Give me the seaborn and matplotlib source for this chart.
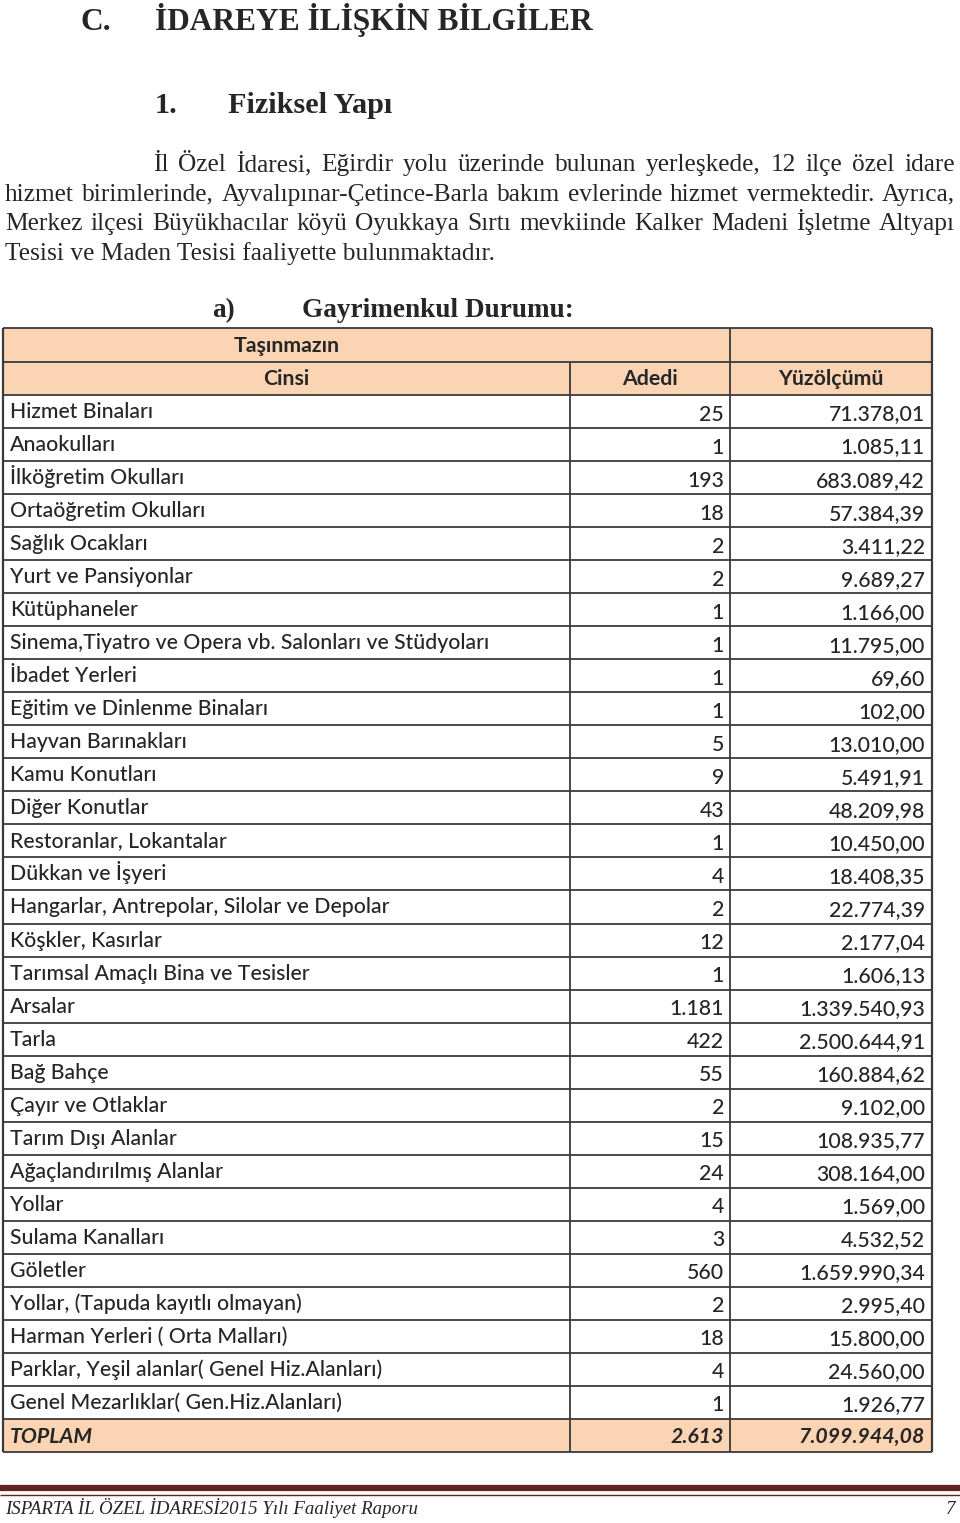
import numpy as np
import matplotlib as mpl
mpl.use('Agg')
import matplotlib.pyplot as plt
from matplotlib.patches import Rectangle
import seaborn as sns

sns.set_theme(style='white')
plt.rcParams['font.family'] = ['Liberation Serif', 'DejaVu Serif']

# table contents
cinsi = ['Hizmet Binaları', 'Anaokulları', 'İlköğretim Okulları', 'Ortaöğretim Okulları',
         'Sağlık Ocakları', 'Yurt ve Pansiyonlar', 'Kütüphaneler',
         'Sinema,Tiyatro ve Opera vb. Salonları ve Stüdyoları', 'İbadet Yerleri',
         'Eğitim ve Dinlenme Binaları', 'Hayvan Barınakları', 'Kamu Konutları',
         'Diğer Konutlar', 'Restoranlar, Lokantalar', 'Dükkan ve İşyeri',
         'Hangarlar, Antrepolar, Silolar ve Depolar', 'Köşkler, Kasırlar',
         'Tarımsal Amaçlı Bina ve Tesisler', 'Arsalar', 'Tarla', 'Bağ Bahçe',
         'Çayır ve Otlaklar', 'Tarım Dışı Alanlar', 'Ağaçlandırılmış Alanlar', 'Yollar',
         'Sulama Kanalları', 'Göletler', 'Yollar, (Tapuda kayıtlı olmayan)',
         'Harman Yerleri ( Orta Malları)', 'Parklar, Yeşil alanlar( Genel Hiz.Alanları)',
         'Genel Mezarlıklar( Gen.Hiz.Alanları)']
adedi = ['25', '1', '193', '18', '2', '2', '1', '1', '1', '1', '5', '9', '43', '1', '4',
         '2', '12', '1', '1.181', '422', '55', '2', '15', '24', '4', '3', '560', '2', '18',
         '4', '1']
yuzolcum = ['71.378,01', '1.085,11', '683.089,42', '57.384,39', '3.411,22', '9.689,27',
            '1.166,00', '11.795,00', '69,60', '102,00', '13.010,00', '5.491,91',
            '48.209,98', '10.450,00', '18.408,35', '22.774,39', '2.177,04', '1.606,13',
            '1.339.540,93', '2.500.644,91', '160.884,62', '9.102,00', '108.935,77',
            '308.164,00', '1.569,00', '4.532,52', '1.659.990,34', '2.995,40', '15.800,00',
            '24.560,00', '1.926,77']
toplam_adet = '2.613'
toplam_alan = '7.099.944,08'

paragraph = [
    'İl Özel İdaresi, Eğirdir yolu üzerinde bulunan yerleşkede, 12 ilçe özel idare',
    'hizmet birimlerinde,  Ayvalıpınar-Çetince-Barla bakım evlerinde hizmet vermektedir. Ayrıca,',
    'Merkez ilçesi Büyükhacılar köyü Oyukkaya Sırtı mevkiinde Kalker Madeni İşletme Altyapı',
    'Tesisi ve Maden Tesisi faaliyette bulunmaktadır.',
]

fig = plt.figure(figsize=(9.6, 15.23), dpi=100)
ax = fig.add_axes([0, 0, 1, 1])
ax.set_xlim(0, 960)
ax.set_ylim(1523, 0)
ax.axis('off')
renderer = fig.canvas.get_renderer()

SANS = ['Lato', 'DejaVu Sans']
SERIF = ['Liberation Serif', 'DejaVu Serif']


def width_of(txt, size, **kw):
    t = ax.text(0, 0, txt, fontsize=size, **kw)
    w = t.get_window_extent(renderer).width
    t.remove()
    return w


def fit(txt, target, **kw):
    return 20 * target / width_of(txt, 20, **kw)


def justify(line, x0, x1, y, size, **kw):
    words = line.split()
    ws = [width_of(w, size, **kw) for w in words]
    gap = (x1 - x0 - sum(ws)) / (len(words) - 1)
    x = x0
    for w, wd in zip(words, ws):
        ax.text(x, y, w, fontsize=size, va='baseline', ha='left', **kw)
        x += wd + gap


# headings
hs = fit('İDAREYE İLİŞKİN BİLGİLER', 437, family=SERIF, weight='bold')
ax.text(80, 30, 'C.', fontsize=hs, weight='bold', family=SERIF, va='baseline')
ax.text(155, 30, 'İDAREYE İLİŞKİN BİLGİLER', fontsize=hs, weight='bold', family=SERIF, va='baseline')
hs2 = fit('Fiziksel Yapı', 165, family=SERIF, weight='bold')
ax.text(155, 113, '1.', fontsize=hs2, weight='bold', family=SERIF, va='baseline')
ax.text(228, 113, 'Fiziksel Yapı', fontsize=hs2, weight='bold', family=SERIF, va='baseline')

# largest size at which the widest justified line still keeps normal word gaps
ps = fit(paragraph[1], 945, family=SERIF)
base = [171, 200.5, 230, 259.5]
justify(paragraph[0], 153, 955, base[0], ps, family=SERIF)
justify(paragraph[1], 5, 955, base[1], ps, family=SERIF)
justify(paragraph[2], 5, 955, base[2], ps, family=SERIF)
ax.text(5, base[3], paragraph[3], fontsize=ps, family=SERIF, va='baseline')

hs3 = fit('Gayrimenkul Durumu:', 272, family=SERIF, weight='bold')
ax.text(212, 317, 'a)', fontsize=hs3, weight='bold', family=SERIF, va='baseline')
ax.text(302, 317, 'Gayrimenkul Durumu:', fontsize=hs3, weight='bold', family=SERIF, va='baseline')

# table
peach = '#fbd4b4'
edge = '#3a3a3a'
xl, xc1, xc2, xr = 3, 570, 730, 932
top = 328
h1 = 362
n = len(cinsi) + 2
rh = (1452 - h1) / n
ys = h1 + rh * np.arange(n + 1)

ax.add_patch(Rectangle((xl, top), xr - xl, ys[1] - top, facecolor=peach, edgecolor='none'))
ax.add_patch(Rectangle((xl, ys[-2]), xr - xl, rh, facecolor=peach, edgecolor='none'))

ts = fit(cinsi[7], 480, family=SANS, weight='medium')
ax.text((xl + xc1) / 2, 352, 'Taşınmazın', fontsize=ts, weight='bold', family=SANS, ha='center', va='baseline')
ax.text((xl + xc1) / 2, ys[0] + 23, 'Cinsi', fontsize=ts, weight='bold', family=SANS, ha='center', va='baseline')
ax.text((xc1 + xc2) / 2, ys[0] + 23, 'Adedi', fontsize=ts, weight='bold', family=SANS, ha='center', va='baseline')
ax.text((xc2 + xr) / 2, ys[0] + 23, 'Yüzölçümü', fontsize=ts, weight='bold', family=SANS, ha='center', va='baseline')

for i, (c, a, y) in enumerate(zip(cinsi, adedi, yuzolcum)):
    y0 = ys[i + 1]
    ax.text(10, y0 + 23, c, fontsize=ts, family=SANS, weight='medium', va='baseline')
    ax.text(xc2 - 6, y0 + 25.5, a, fontsize=ts, family=SANS, weight='medium', ha='right', va='baseline')
    ax.text(xr - 7, y0 + 25.5, y, fontsize=ts, family=SANS, weight='medium', ha='right', va='baseline')

y0 = ys[-2]
ax.text(10, y0 + 24, 'TOPLAM', fontsize=ts, family=SANS, weight='bold', style='italic', va='baseline')
ax.text(xc2 - 6, y0 + 24, toplam_adet, fontsize=ts, family=SANS, weight='bold', style='italic', ha='right', va='baseline')
ax.text(xr - 7, y0 + 24, toplam_alan, fontsize=ts, family=SANS, weight='bold', style='italic', ha='right', va='baseline')

ax.hlines([top] + list(ys), xl, xr, color=edge, lw=1.3)
ax.vlines([xl, xr], top, ys[-1], color=edge, lw=1.6)
ax.vlines(xc2, top, ys[-1], color=edge, lw=1.3)
ax.vlines(xc1, ys[0], ys[-1], color=edge, lw=1.3)

# footer
ax.hlines(1488, 0, 960, color='#622423', lw=4.5)
ax.hlines(1494.5, 0, 960, color='#622423', lw=1.0)
fs = fit('ISPARTA İL ÖZEL İDARESİ2015 Yılı Faaliyet Raporu', 412, family=SERIF, style='italic')
ax.text(5, 1514, 'ISPARTA İL ÖZEL İDARESİ2015 Yılı Faaliyet Raporu', fontsize=fs, family=SERIF,
        style='italic', va='baseline')
ax.text(955, 1514, '7', fontsize=fs, family=SERIF, style='italic', ha='right', va='baseline')

fig.savefig('out.png', dpi=100, facecolor='white')
